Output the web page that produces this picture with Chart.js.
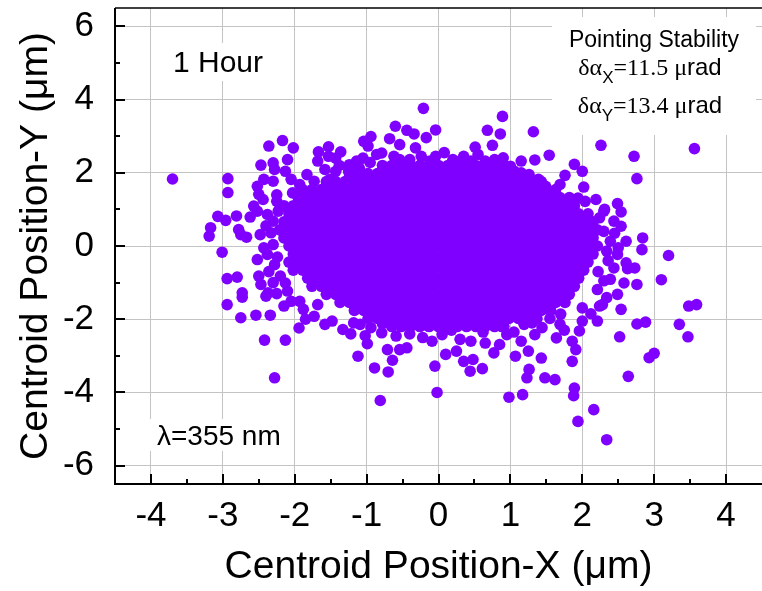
<!DOCTYPE html>
<html>
<head>
<meta charset="utf-8">
<script src="https://cdn.jsdelivr.net/npm/chart.js@4.4.1/dist/chart.umd.min.js"></script>
<style>
  html, body { margin: 0; padding: 0; background: #ffffff; }
  canvas { display: block; }
</style>
</head>
<body>
<canvas id="chart" width="762" height="591"></canvas>
<script>
// Axis ticks (µm)
const xTickValues = [-4, -3, -2, -1, 0, 1, 2, 3, 4];
const xTickLabels = ['-4', '-3', '-2', '-1', '0', '1', '2', '3', '4'];
const xMinorValues = [-3.5, -2.5, -1.5, -0.5, 0.5, 1.5, 2.5, 3.5];
const yTickValues = [-6, -4, -2, 0, 2, 4, 6];
const yTickLabels = ['-6', '-4', '-2', '0', '2', '4', '6'];
const yMinorValues = [-5, -3, -1, 1, 3, 5];

// Dense centre of the centroid cloud: [y, [x, x, ...]]
const coreRows = [
  [2.20, [-0.78,-0.65,-0.52,-0.39,-0.26,-0.13,0,0.13,0.26,0.39,0.52,0.65,0.78,0.91]],
  [1.98, [-1.24,-1.11,-0.98,-0.85,-0.72,-0.59,-0.46,-0.33,-0.20,-0.07,0.07,0.20,0.33,0.46,0.59,0.72,0.85,0.98,1.11]],
  [1.76, [-1.56,-1.43,-1.30,-1.17,-1.04,-0.91,-0.78,-0.65,-0.52,-0.39,-0.26,-0.13,0,0.13,0.26,0.39,0.52,0.65,0.78,0.91,1.04,1.17,1.30,1.43]],
  [1.54, [-1.89,-1.76,-1.63,-1.50,-1.37,-1.24,-1.11,-0.98,-0.85,-0.72,-0.59,-0.46,-0.33,-0.20,-0.07,0.07,0.20,0.33,0.46,0.59,0.72,0.85,0.98,1.11,1.24,1.37,1.50,1.63]],
  [1.32, [-1.95,-1.82,-1.69,-1.56,-1.43,-1.30,-1.17,-1.04,-0.91,-0.78,-0.65,-0.52,-0.39,-0.26,-0.13,0,0.13,0.26,0.39,0.52,0.65,0.78,0.91,1.04,1.17,1.30,1.43,1.56,1.69,1.82]],
  [1.10, [-2.15,-2.02,-1.89,-1.76,-1.63,-1.50,-1.37,-1.24,-1.11,-0.98,-0.85,-0.72,-0.59,-0.46,-0.33,-0.20,-0.07,0.07,0.20,0.33,0.46,0.59,0.72,0.85,0.98,1.11,1.24,1.37,1.50,1.63,1.76,1.89]],
  [0.88, [-2.08,-1.95,-1.82,-1.69,-1.56,-1.43,-1.30,-1.17,-1.04,-0.91,-0.78,-0.65,-0.52,-0.39,-0.26,-0.13,0,0.13,0.26,0.39,0.52,0.65,0.78,0.91,1.04,1.17,1.30,1.43,1.56,1.69,1.82,1.95,2.08]],
  [0.66, [-2.15,-2.02,-1.89,-1.76,-1.63,-1.50,-1.37,-1.24,-1.11,-0.98,-0.85,-0.72,-0.59,-0.46,-0.33,-0.20,-0.07,0.07,0.20,0.33,0.46,0.59,0.72,0.85,0.98,1.11,1.24,1.37,1.50,1.63,1.76,1.89,2.02,2.15]],
  [0.44, [-2.21,-2.08,-1.95,-1.82,-1.69,-1.56,-1.43,-1.30,-1.17,-1.04,-0.91,-0.78,-0.65,-0.52,-0.39,-0.26,-0.13,0,0.13,0.26,0.39,0.52,0.65,0.78,0.91,1.04,1.17,1.30,1.43,1.56,1.69,1.82,1.95,2.08,2.21]],
  [0.22, [-2.15,-2.02,-1.89,-1.76,-1.63,-1.50,-1.37,-1.24,-1.11,-0.98,-0.85,-0.72,-0.59,-0.46,-0.33,-0.20,-0.07,0.07,0.20,0.33,0.46,0.59,0.72,0.85,0.98,1.11,1.24,1.37,1.50,1.63,1.76,1.89,2.02,2.15]],
  [0.00, [-2.08,-1.95,-1.82,-1.69,-1.56,-1.43,-1.30,-1.17,-1.04,-0.91,-0.78,-0.65,-0.52,-0.39,-0.26,-0.13,0,0.13,0.26,0.39,0.52,0.65,0.78,0.91,1.04,1.17,1.30,1.43,1.56,1.69,1.82,1.95,2.08,2.21]],
  [-0.22, [-2.02,-1.89,-1.76,-1.63,-1.50,-1.37,-1.24,-1.11,-0.98,-0.85,-0.72,-0.59,-0.46,-0.33,-0.20,-0.07,0.07,0.20,0.33,0.46,0.59,0.72,0.85,0.98,1.11,1.24,1.37,1.50,1.63,1.76,1.89,2.02,2.15]],
  [-0.44, [-2.08,-1.95,-1.82,-1.69,-1.56,-1.43,-1.30,-1.17,-1.04,-0.91,-0.78,-0.65,-0.52,-0.39,-0.26,-0.13,0,0.13,0.26,0.39,0.52,0.65,0.78,0.91,1.04,1.17,1.30,1.43,1.56,1.69,1.82,1.95,2.08]],
  [-0.66, [-2.02,-1.89,-1.76,-1.63,-1.50,-1.37,-1.24,-1.11,-0.98,-0.85,-0.72,-0.59,-0.46,-0.33,-0.20,-0.07,0.07,0.20,0.33,0.46,0.59,0.72,0.85,0.98,1.11,1.24,1.37,1.50,1.63,1.76,1.89,2.02]],
  [-0.88, [-1.82,-1.69,-1.56,-1.43,-1.30,-1.17,-1.04,-0.91,-0.78,-0.65,-0.52,-0.39,-0.26,-0.13,0,0.13,0.26,0.39,0.52,0.65,0.78,0.91,1.04,1.17,1.30,1.43,1.56,1.69,1.82,1.95]],
  [-1.10, [-1.76,-1.63,-1.50,-1.37,-1.24,-1.11,-0.98,-0.85,-0.72,-0.59,-0.46,-0.33,-0.20,-0.07,0.07,0.20,0.33,0.46,0.59,0.72,0.85,0.98,1.11,1.24,1.37,1.50,1.63,1.76,1.89]],
  [-1.32, [-1.56,-1.43,-1.30,-1.17,-1.04,-0.91,-0.78,-0.65,-0.52,-0.39,-0.26,-0.13,0,0.13,0.26,0.39,0.52,0.65,0.78,0.91,1.04,1.17,1.30,1.43,1.56,1.69,1.82]],
  [-1.54, [-1.37,-1.24,-1.11,-0.98,-0.85,-0.72,-0.59,-0.46,-0.33,-0.20,-0.07,0.07,0.20,0.33,0.46,0.59,0.72,0.85,0.98,1.11,1.24,1.37,1.50,1.63,1.76]],
  [-1.76, [-1.17,-1.04,-0.91,-0.78,-0.65,-0.52,-0.39,-0.26,-0.13,0,0.13,0.26,0.39,0.52,0.65,0.78,0.91,1.04,1.17,1.30,1.43,1.56]],
  [-1.98, [-0.98,-0.85,-0.72,-0.59,-0.46,-0.33,-0.20,-0.07,0.07,0.20,0.33,0.46,0.59,0.72,0.85,0.98,1.11,1.24,1.37]],
  [-2.20, [-0.65,-0.52,-0.39,-0.26,-0.13,0,0.13,0.26,0.39,0.52,0.65,0.78,0.91]]
];

// Ragged rim of the cloud: [x, y]
const edgePoints = [
  [-2.52,1.63],[-2.50,1.41],[-2.57,1.09],[-2.43,1.82],[-2.28,2.09],[-2.30,1.77],[-2.25,1.22],
  [-2.13,2.04],[-2.05,1.82],[-2.03,1.45],[-1.93,1.68],[-1.83,1.95],[-1.73,1.77],[-1.51,1.82],
  [-1.43,2.04],[-1.24,2.22],[-1.14,2.32],[-0.86,2.50],[-0.79,2.54],[-0.54,2.77],[-0.54,2.36],
  [-0.32,2.68],[-0.24,2.45],[-0.04,2.45],[0.20,2.36],[0.35,2.45],[0.45,2.32],[0.65,2.32],
  [0.90,2.41],[1.00,2.18],[1.15,2.00],[1.39,1.82],[1.49,1.63],[1.69,1.68],[1.74,1.22],
  [1.94,1.31],[2.04,1.22],[2.19,1.27],[2.31,1.00],[2.24,0.77],[2.44,0.68],[2.54,0.54],
  [2.61,0.13],[2.39,0.13],[2.45,0.35],[2.34,-0.14],[2.49,-0.23],[2.44,-0.60],[2.61,-0.46],
  [2.39,-0.91],[2.58,-1.01],[2.49,-1.32],[2.34,-1.41],[2.21,-1.19],[2.24,-1.64],[2.54,-1.73],
  [2.21,-2.05],[2.00,-1.69],[2.00,-2.05],[1.96,-2.32],[1.86,-2.60],[1.91,-2.83],[1.69,-2.14],
  [1.64,-2.51],[1.44,-2.23],[1.34,-2.42],[1.19,-2.14],[1.15,-2.60],[1.25,-2.87],[0.95,-2.42],
  [0.85,-2.69],[0.77,-2.92],[0.65,-2.65],[0.45,-2.60],[0.48,-3.10],[0.35,-3.15],[0.25,-2.87],
  [0.10,-2.96],[0.05,-2.42],[-0.09,-2.60],[-0.14,-2.19],[-0.32,-2.10],[-0.44,-2.78],[-0.54,-2.83],
  [-0.71,-2.83],[-0.59,-2.46],[-0.79,-2.37],[-0.94,-2.23],[-1.09,-2.14],[-1.33,-2.28],[-1.48,-2.05],
  [-1.58,-2.14],[-1.73,-1.92],[-1.68,-1.60],[-1.88,-1.73],[-1.93,-1.51],[-2.05,-1.51],[-2.15,-1.64],
  [-2.10,-1.23],[-2.13,-1.01],[-2.20,-0.82],[-2.28,-0.51],[-2.38,-0.23],[-2.43,-0.05],[-2.30,0.04],
  [-2.33,0.36],[-2.48,0.31],[-2.30,0.68],[-2.38,0.86],[-2.23,0.95],[-2.75,0.31],[-2.52,0.95],
  [-2.44,1.27],[-1.68,2.32],[-1.58,2.09],[-1.43,2.40],[-1.25,2.05],[-1.85,-2.00],[1.75,-2.30],
  [2.30,-0.95],[2.50,-0.05],
  [-1.05,2.40],[-0.95,2.28],[-0.62,2.45],[-0.40,2.36],[-0.12,2.32],[0.08,2.55],[0.28,2.30],
  [0.55,2.50],[0.78,2.36],[-1.38,2.20],[-1.10,2.12],[1.05,2.05],[1.26,1.95],
  [-1.22,-2.40],[-1.02,-2.45],[-0.78,-2.12],[-0.40,-2.40],[-0.22,-2.50],[0.18,-2.30],[0.30,-2.55],
  [0.62,-2.35],[0.88,-2.20],[1.05,-2.35],[1.30,-2.10],[1.55,-1.98],[1.70,-1.86],[-1.18,-2.10],
  [-2.30,-1.00],[-2.25,-1.30],[-2.40,0.55],[-2.25,1.40],[-2.36,-0.70],[-2.24,-0.30],
  [2.30,0.40],[2.36,-0.40],[2.28,-1.60],[2.12,-1.85],[2.30,0.95],[2.22,-0.70]
];

// Isolated excursions of the centroid: [x, y]
const outlierPoints = [
  [-0.21,3.76],[0.89,3.54],[1.32,3.12],[2.26,2.75],[3.56,2.66],[2.72,2.45],[2.76,1.84],
  [-0.60,3.27],[-0.44,3.16],[-0.34,3.06],[-0.04,3.17],[-0.17,2.96],[0.68,3.16],[0.86,3.06],
  [0.75,2.75],[0.51,2.70],[-0.68,2.93],[-0.94,2.99],[-1.04,2.86],[-0.98,2.73],
  [-2.17,2.88],[-2.36,2.73],[-2.02,2.68],[-3.70,1.83],[-2.93,1.84],[-2.93,1.46],
  [-2.47,2.21],[-2.30,2.27],[-2.10,2.36],[-1.67,2.57],[-1.53,2.71],[-1.36,2.57],[-1.53,2.45],
  [1.54,2.48],[1.34,2.35],[1.15,2.32],[1.89,2.23],[2.00,2.04],[1.76,1.93],[2.02,1.61],
  [2.49,1.16],[2.54,0.93],[2.84,0.22],[2.83,-0.10],[3.20,-0.26],[3.10,-0.92],
  [3.48,-1.64],[3.59,-1.60],[3.35,-2.14],[3.47,-2.48],[2.76,-1.05],[2.63,-0.62],[2.73,-0.60],
  [2.76,-2.13],[2.88,-2.08],[2.52,-2.48],[2.93,-3.05],[3.00,-2.93],[2.64,-3.56],
  [2.16,-4.47],[1.94,-4.79],[2.34,-5.29],[1.89,-3.88],[1.88,-4.09],[1.86,-3.15],
  [1.62,-3.65],[1.48,-3.60],[1.17,-4.06],[0.98,-4.13],[1.23,-3.60],[1.26,-3.37],
  [1.43,-3.06],[1.07,-3.01],[0.61,-3.35],[0.44,-3.42],[-0.02,-4.00],[-0.05,-3.28],
  [-0.81,-4.22],[-0.89,-3.33],[-0.70,-3.44],[-0.64,-3.12],[-1.12,-3.01],[-0.99,-2.67],
  [-2.28,-3.60],[-2.42,-2.57],[-2.13,-2.57],[-1.94,-2.24],[-2.75,-1.96],[-2.94,-1.60],
  [-2.73,-1.28],[-2.73,-1.40],[-2.54,-1.89],[-2.34,-1.89],[-2.40,-1.37],[-2.37,-1.28],
  [-2.94,-0.89],[-2.80,-0.85],[-2.50,-0.82],[-2.47,-1.05],[-3.01,-0.17],[-3.19,0.27],
  [-3.17,0.50],[-3.07,0.81],[-2.96,0.70],[-2.81,0.82],[-2.62,0.79],[-2.78,0.45],
  [-2.67,0.24],[-2.52,-0.37]
];

const xTitle = 'Centroid Position-X (\u03bcm)';
const yTitle = 'Centroid Position-Y (\u03bcm)';
const durationLabel = '1 Hour';
const wavelengthLabel = '\u03bb=355 nm';
const stabilityHeading = 'Pointing Stability';
const stabilityX = '11.5';
const stabilityY = '13.4';

const SANS = '"Liberation Sans", Arial, sans-serif';
const SERIF = '"Liberation Serif", "Times New Roman", serif';
const DOT = '#8000ff';

const points = [];
coreRows.forEach(([y, xs]) => xs.forEach(x => points.push({ x, y })));
edgePoints.forEach(([x, y]) => points.push({ x, y }));
outlierPoints.forEach(([x, y]) => points.push({ x, y }));

// Draws runs of text in mixed fonts, centred on cx
function drawRuns(ctx, runs, cx, baseline) {
  let total = 0;
  runs.forEach(r => { ctx.font = r.font; r.w = ctx.measureText(r.text).width; total += r.w; });
  let x = cx - total / 2;
  ctx.textAlign = 'left';
  ctx.textBaseline = 'alphabetic';
  runs.forEach(r => { ctx.font = r.font; ctx.fillText(r.text, x, baseline + (r.dy || 0)); x += r.w; });
}

const annotations = {
  id: 'annotations',
  beforeDatasetsDraw(chart) {
    const ctx = chart.ctx;
    ctx.save();
    ctx.fillStyle = '#ffffff';
    ctx.fillRect(552, 17, 204, 118);
    ctx.fillRect(165, 43, 110, 38);
    ctx.fillRect(148, 419, 144, 32);
    ctx.fillStyle = '#000000';
    ctx.textBaseline = 'alphabetic';
    ctx.textAlign = 'left';
    ctx.font = '30px ' + SANS;
    ctx.fillText(durationLabel, 173, 72);
    ctx.font = '28px ' + SANS;
    ctx.fillText(wavelengthLabel, 157, 445);
    ctx.textAlign = 'center';
    ctx.font = '23px ' + SANS;
    ctx.fillText(stabilityHeading, 654, 47);
    const mk = (sub, val) => [
      { text: '\u03b4\u03b1', font: '24px ' + SERIF },
      { text: sub, font: '17px ' + SANS, dy: 8 },
      { text: '=' + val + ' \u03bc', font: '24px ' + SERIF },
      { text: 'rad', font: '24px ' + SANS }
    ];
    drawRuns(ctx, mk('X', stabilityX), 650, 75);
    drawRuns(ctx, mk('Y', stabilityY), 650, 113);
    ctx.restore();
  },
  afterDraw(chart) {
    const ctx = chart.ctx;
    const { left, right, top, bottom } = chart.chartArea;
    const xs = chart.scales.x, ys = chart.scales.y;
    ctx.save();
    ctx.strokeStyle = '#000000';
    ctx.lineWidth = 1.5;
    ctx.beginPath();
    ctx.moveTo(left, top); ctx.lineTo(right, top);
    ctx.stroke();
    ctx.lineWidth = 2;
    ctx.beginPath();
    ctx.moveTo(left, top); ctx.lineTo(left, bottom); ctx.lineTo(right, bottom);
    xTickValues.forEach(v => { const p = Math.round(xs.getPixelForValue(v)); ctx.moveTo(p, bottom); ctx.lineTo(p, bottom - 10); });
    xMinorValues.forEach(v => { const p = Math.round(xs.getPixelForValue(v)); ctx.moveTo(p, bottom); ctx.lineTo(p, bottom - 5); });
    yTickValues.forEach(v => { const p = Math.round(ys.getPixelForValue(v)); ctx.moveTo(left, p); ctx.lineTo(left + 10, p); });
    yMinorValues.forEach(v => { const p = Math.round(ys.getPixelForValue(v)); ctx.moveTo(left, p); ctx.lineTo(left + 5, p); });
    ctx.stroke();
    ctx.restore();
  }
};

// Fixed axis box sizes, no extra edge padding for labels
function fixX(s) { s.height = 107; s.paddingLeft = 0; s.paddingRight = 0; s.paddingTop = 0; s.paddingBottom = 0; }
function fixY(s) { s.width = 115; s.paddingTop = 0; s.paddingBottom = 0; s.paddingLeft = 0; s.paddingRight = 0; }

new Chart(document.getElementById('chart'), {
  type: 'scatter',
  data: {
    datasets: [{
      data: points,
      pointRadius: 5.8,
      pointHoverRadius: 5.8,
      pointBackgroundColor: DOT,
      pointBorderWidth: 0,
      pointBorderColor: DOT
    }]
  },
  options: {
    responsive: false,
    devicePixelRatio: 1,
    animation: false,
    events: [],
    layout: { autoPadding: false, padding: { top: 8, right: 0, left: 0, bottom: 0 } },
    plugins: { legend: { display: false }, tooltip: { enabled: false } },
    scales: {
      x: {
        type: 'linear',
        min: -4.5,
        max: 4.5,
        afterBuildTicks: s => { s.ticks = xTickValues.map(v => ({ value: v })); },
        afterFit: fixX,
        ticks: {
          callback: (v, i) => xTickLabels[i],
          color: '#000',
          font: { family: SANS, size: 35 },
          padding: 11,
          maxRotation: 0,
          autoSkip: false
        },
        grid: { color: '#c4c4c4', lineWidth: 1, drawTicks: false },
        border: { display: false },
        title: {
          display: true,
          text: xTitle,
          color: '#000',
          font: { family: SANS, size: 39, lineHeight: 1 },
          padding: { top: 0, bottom: 4 }
        }
      },
      y: {
        type: 'linear',
        min: -6.5,
        max: 6.5,
        afterBuildTicks: s => { s.ticks = yTickValues.map(v => ({ value: v })); },
        afterFit: fixY,
        ticks: {
          callback: (v, i) => yTickLabels[i],
          color: '#000',
          font: { family: SANS, size: 35 },
          padding: 21,
          autoSkip: false
        },
        grid: { color: '#c4c4c4', lineWidth: 1, drawTicks: false },
        border: { display: false },
        title: {
          display: true,
          text: yTitle,
          color: '#000',
          font: { family: SANS, size: 39, lineHeight: 1 },
          padding: { top: 17, bottom: 0 }
        }
      }
    }
  },
  plugins: [annotations]
});
</script>
</body>
</html>
